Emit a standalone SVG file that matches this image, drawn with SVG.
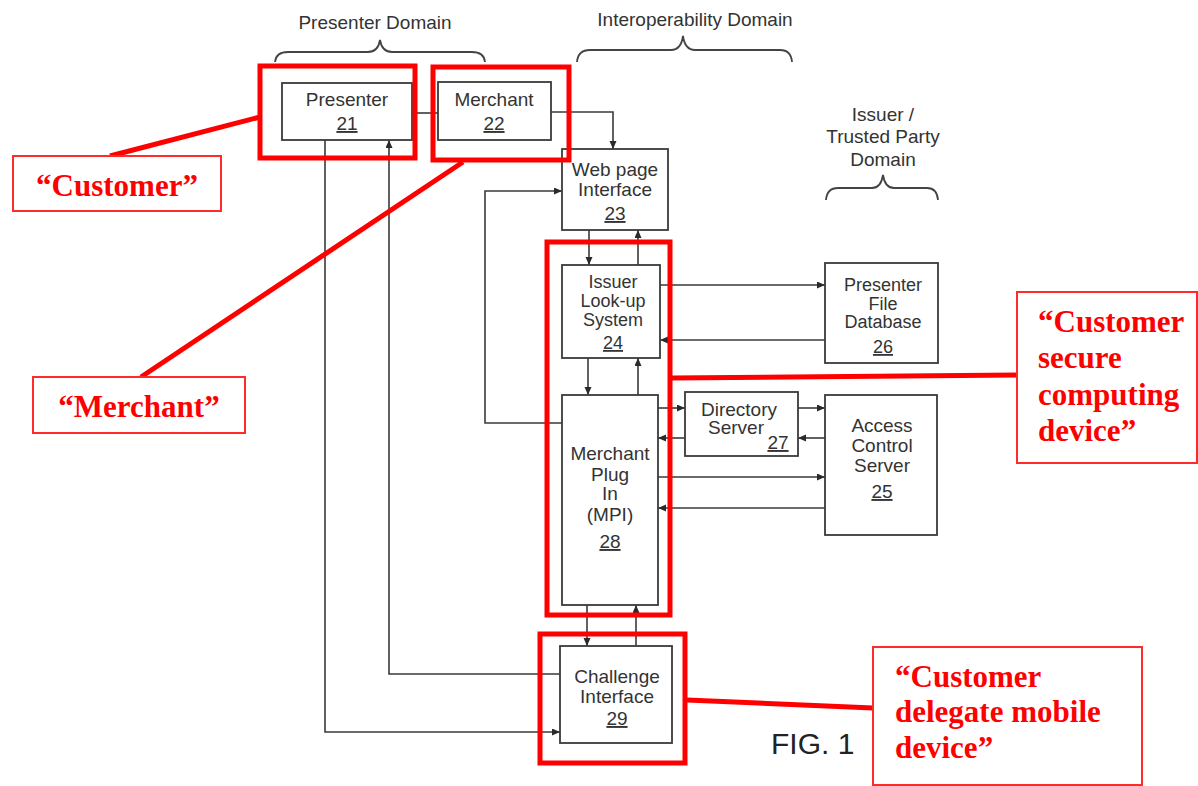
<svg xmlns="http://www.w3.org/2000/svg" width="1198" height="786" viewBox="0 0 1198 786">
<defs>
<style>
.box{fill:none;stroke:#3a3a3a;stroke-width:1.8}
.ln{fill:none;stroke:#3a3a3a;stroke-width:1.6}
.br{fill:none;stroke:#444;stroke-width:1.8}
.t{font-family:"Liberation Sans",Arial,sans-serif;font-size:19px;fill:#333;text-anchor:middle}
.s{font-size:18px}
.u{text-decoration:underline}
.rb{fill:none;stroke:#ff0000;stroke-width:5}
.rl{fill:none;stroke:#ff0000;stroke-width:5}
.lb{fill:#fff;stroke:#ff2a2a;stroke-width:2}
.rt{font-family:"Liberation Serif","Times New Roman",serif;font-weight:bold;font-size:31px;fill:#ff0000}
.fig{font-family:"Liberation Sans",Arial,sans-serif;font-size:30px;fill:#222}
</style>
<marker id="ah" markerWidth="9" markerHeight="8" refX="8" refY="3.5" orient="auto" markerUnits="userSpaceOnUse">
<path d="M0,0 L8,3.5 L0,7 z" fill="#2a2a2a"/>
</marker>
</defs>
<rect width="1198" height="786" fill="#ffffff"/>

<g id="domains">
<path class="br" d="M275,62 Q276,52 288,52 L368,52 Q378,52 380,40 Q382,52 392,52 L472,52 Q484,52 485,62"/>
<text class="t" x="375" y="29">Presenter Domain</text>
<path class="br" d="M577,62 Q578,50 590,50 L671,50 Q681,50 683,36 Q685,50 695,50 L780,50 Q791,50 792,62"/>
<text class="t" x="695" y="26">Interoperability Domain</text>
<path class="br" d="M826,200 Q827,188 838,188 L872,188 Q881,188 883,175 Q885,188 894,188 L927,188 Q937,188 938,200"/>
<text class="t" x="883" y="121">Issuer /</text>
<text class="t" x="883" y="143">Trusted Party</text>
<text class="t" x="883" y="166">Domain</text>
</g>

<g id="connectors">
<path class="ln" d="M412,113 H438"/>
<path class="ln" marker-end="url(#ah)" d="M551,112 H613 V149"/>
<path class="ln" marker-end="url(#ah)" d="M562,423 H485 V191 H562"/>
<path class="ln" marker-end="url(#ah)" d="M589,230 V265"/>
<path class="ln" marker-end="url(#ah)" d="M638,265 V230"/>
<path class="ln" marker-end="url(#ah)" d="M660,285 H825"/>
<path class="ln" marker-end="url(#ah)" d="M825,340 H660"/>
<path class="ln" marker-end="url(#ah)" d="M588,358 V395"/>
<path class="ln" marker-end="url(#ah)" d="M638,395 V358"/>
<path class="ln" marker-end="url(#ah)" d="M658,408 H685"/>
<path class="ln" marker-end="url(#ah)" d="M685,438 H658"/>
<path class="ln" marker-end="url(#ah)" d="M798,408 H825"/>
<path class="ln" marker-end="url(#ah)" d="M825,438 H798"/>
<path class="ln" marker-end="url(#ah)" d="M658,477 H825"/>
<path class="ln" marker-end="url(#ah)" d="M825,508 H658"/>
<path class="ln" marker-end="url(#ah)" d="M587,605 V646"/>
<path class="ln" marker-end="url(#ah)" d="M636,646 V605"/>
<path class="ln" marker-end="url(#ah)" d="M560,674 H389 V140"/>
<path class="ln" marker-end="url(#ah)" d="M325,140 V732 H560"/>
</g>

<g id="n21">
<rect class="box" x="282" y="83" width="130" height="57"/>
<text class="t" x="347" y="106">Presenter</text>
<text class="t u" x="347" y="130">21</text>
</g>
<g id="n22">
<rect class="box" x="438" y="82" width="113" height="58"/>
<text class="t" x="494" y="106">Merchant</text>
<text class="t u" x="494" y="130">22</text>
</g>
<g id="n23">
<rect class="box" x="562" y="149" width="106" height="81"/>
<text class="t" x="615" y="176">Web page</text>
<text class="t" x="615" y="196">Interface</text>
<text class="t u" x="615" y="220">23</text>
</g>
<g id="n24">
<rect class="box" x="562" y="265" width="98" height="93"/>
<text class="t s" x="613" y="288">Issuer</text>
<text class="t s" x="613" y="307">Look-up</text>
<text class="t s" x="613" y="326">System</text>
<text class="t s u" x="613" y="349">24</text>
</g>
<g id="n26">
<rect class="box" x="825" y="263" width="113" height="100"/>
<text class="t s" x="883" y="291">Presenter</text>
<text class="t s" x="883" y="310">File</text>
<text class="t s" x="883" y="328">Database</text>
<text class="t s u" x="883" y="353">26</text>
</g>
<g id="n28">
<rect class="box" x="562" y="395" width="96" height="210"/>
<text class="t" x="610" y="460">Merchant</text>
<text class="t" x="610" y="481">Plug</text>
<text class="t" x="610" y="500">In</text>
<text class="t" x="610" y="521">(MPI)</text>
<text class="t u" x="610" y="548">28</text>
</g>
<g id="n27">
<rect class="box" x="685" y="392" width="113" height="64"/>
<text class="t" x="739" y="416">Directory</text>
<text class="t" x="736" y="434">Server</text>
<text class="t u" x="778" y="449">27</text>
</g>
<g id="n25">
<rect class="box" x="825" y="395" width="112" height="140"/>
<text class="t" x="882" y="432">Access</text>
<text class="t" x="882" y="452">Control</text>
<text class="t" x="882" y="472">Server</text>
<text class="t u" x="882" y="498">25</text>
</g>
<g id="n29">
<rect class="box" x="560" y="646" width="112" height="97"/>
<text class="t" x="617" y="683">Challenge</text>
<text class="t" x="617" y="703">Interface</text>
<text class="t u" x="617" y="725">29</text>
</g>

<text class="fig" x="771" y="754">FIG. 1</text>

<g id="annotations">
<rect class="rb" x="260" y="66" width="155" height="92"/>
<rect class="rb" x="433" y="67" width="136" height="93"/>
<rect class="rb" x="547" y="242" width="123" height="373"/>
<rect class="rb" x="540" y="634" width="145" height="129"/>
<path class="rl" d="M110,156 L260,117"/>
<path class="rl" d="M141,377 L463,162"/>
<path class="rl" d="M672,378 L1018,375"/>
<path class="rl" d="M687,700 L873,708"/>
</g>

<g id="label-customer">
<rect class="lb" x="13" y="156" width="208" height="55"/>
<text class="rt" x="117" y="196" text-anchor="middle">“Customer”</text>
</g>
<g id="label-merchant">
<rect class="lb" x="33" y="377" width="212" height="56"/>
<text class="rt" x="139" y="417" text-anchor="middle">“Merchant”</text>
</g>
<g id="label-secure">
<rect class="lb" x="1017" y="292" width="180" height="171"/>
<text class="rt" x="1038" y="332">“Customer</text>
<text class="rt" x="1038" y="368">secure</text>
<text class="rt" x="1038" y="405">computing</text>
<text class="rt" x="1038" y="441">device”</text>
</g>
<g id="label-delegate">
<rect class="lb" x="873" y="647" width="269" height="138"/>
<text class="rt" x="895" y="687">“Customer</text>
<text class="rt" x="895" y="722">delegate mobile</text>
<text class="rt" x="895" y="758">device”</text>
</g>
</svg>
